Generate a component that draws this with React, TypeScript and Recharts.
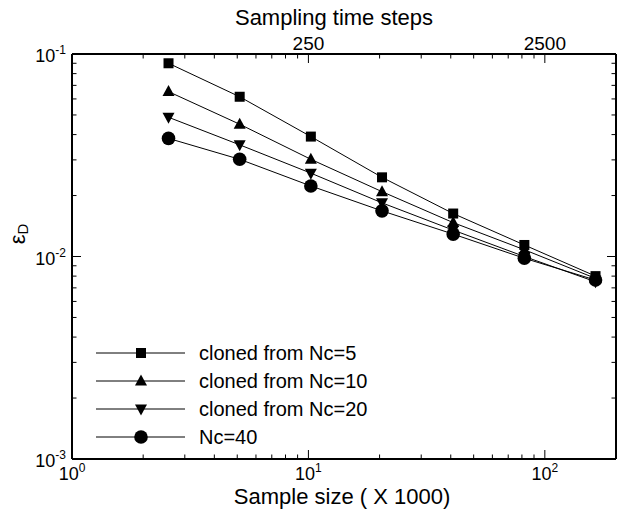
import { LineChart, Line, XAxis, YAxis, Legend, Label } from 'recharts';

// sample size in thousands (bottom axis)
const sampleSize = [2.56, 5.12, 10.24, 20.48, 40.96, 81.92, 163.84];

// epsilon_D
const errNc5 = [0.09, 0.0615, 0.0391, 0.0246, 0.0163, 0.0114, 0.008];
const errNc10 = [0.0652, 0.045, 0.0302, 0.0209, 0.0147, 0.0108, 0.0078];
const errNc20 = [0.0487, 0.0356, 0.0258, 0.0184, 0.0135, 0.01, 0.0075];
const errNc40 = [0.0383, 0.0302, 0.0223, 0.0168, 0.0129, 0.0098, 0.00765];

const seriesNames = ['cloned from Nc=5', 'cloned from Nc=10', 'cloned from Nc=20', 'Nc=40'];

const xTicks = [1, 2, 3, 4, 5, 6, 7, 8, 9, 10, 20, 30, 40, 50, 60, 70, 80, 90, 100];
const yTicks = [
  0.001, 0.002, 0.003, 0.004, 0.005, 0.006, 0.007, 0.008, 0.009,
  0.01, 0.02, 0.03, 0.04, 0.05, 0.06, 0.07, 0.08, 0.09, 0.1,
];
// time steps per 1000 samples
const stepsPerSample = 25;

const data = sampleSize.map((x, i) => ({
  x,
  nc5: errNc5[i],
  nc10: errNc10[i],
  nc20: errNc20[i],
  nc40: errNc40[i],
}));

const FONT = '"Liberation Sans", Arial, Helvetica, sans-serif';

const isDecade = (v: number) => Math.abs(Math.log10(v) - Math.round(Math.log10(v))) < 1e-6;

function Marker({ shape, cx, cy }: { shape: string; cx: number; cy: number }) {
  if (shape === 'square') {
    return <rect x={cx - 5} y={cy - 5} width={10} height={10} fill="#000" />;
  }
  if (shape === 'up') {
    return <polygon points={`${cx},${cy - 6.5} ${cx - 6},${cy + 4.5} ${cx + 6},${cy + 4.5}`} fill="#000" />;
  }
  if (shape === 'down') {
    return <polygon points={`${cx - 6},${cy - 4.5} ${cx + 6},${cy - 4.5} ${cx},${cy + 6.5}`} fill="#000" />;
  }
  return <circle cx={cx} cy={cy} r={6.8} fill="#000" />;
}

const shapes: Record<string, string> = { nc5: 'square', nc10: 'up', nc20: 'down', nc40: 'circle' };

const dotFor = (shape: string) => (props: any) => (
  <Marker key={`${shape}-${props.index}`} shape={shape} cx={props.cx} cy={props.cy} />
);

const BottomTick = ({ x, y, payload }: any) => {
  const major = isDecade(payload.value);
  return (
    <g>
      <line x1={x} x2={x} y1={y} y2={y - (major ? 9 : 4.5)} stroke="#000" />
      {major && (
        <text x={x} y={y + 21} textAnchor="middle" fontSize={18} fill="#000">
          10<tspan dy={-8} fontSize={12}>{Math.round(Math.log10(payload.value))}</tspan>
        </text>
      )}
    </g>
  );
};

const TopTick = ({ x, y, payload }: any) => {
  const major = isDecade(payload.value);
  return (
    <g>
      <line x1={x} x2={x} y1={y} y2={y + (major ? 9 : 4.5)} stroke="#000" />
      {major && payload.value > 1 && (
        <text x={x} y={y - 4} textAnchor="middle" fontSize={19} fill="#000">
          {payload.value * stepsPerSample}
        </text>
      )}
    </g>
  );
};

const LeftTick = ({ x, y, payload }: any) => {
  const major = isDecade(payload.value);
  return (
    <g>
      <line x1={x} x2={x + (major ? 9 : 4.5)} y1={y} y2={y} stroke="#000" />
      {major && (
        <text x={x - 6} y={y + 8} textAnchor="end" fontSize={18} fill="#000">
          10<tspan dy={-8} fontSize={12}>{Math.round(Math.log10(payload.value))}</tspan>
        </text>
      )}
    </g>
  );
};

const RightTick = ({ x, y, payload }: any) => {
  const major = isDecade(payload.value);
  return <line x1={x} x2={x - (major ? 9 : 4.5)} y1={y} y2={y} stroke="#000" />;
};

const LegendBox = ({ payload }: any) => {
  const items = [...(payload || [])].sort(
    (a: any, b: any) => seriesNames.indexOf(a.value) - seriesNames.indexOf(b.value),
  );
  return (
    <div>
      {items.map((entry: any, i: number) => (
        <div key={i} style={{ display: 'flex', alignItems: 'center', height: 28 }}>
          <svg width={89} height={28}>
            <line x1={0} x2={89} y1={14} y2={14} stroke="#000" strokeWidth={1} />
            <Marker shape={shapes[entry.dataKey]} cx={45} cy={14} />
          </svg>
          <span style={{ marginLeft: 14, fontSize: 20, color: '#000' }}>{entry.value}</span>
        </div>
      ))}
    </div>
  );
};

export default function App() {
  return (
    <div style={{ position: 'fixed', left: 0, top: 0, width: 617, height: 512, background: '#fff', fontFamily: FONT }}>
      <LineChart width={617} height={512} data={data} margin={{ top: 0, right: 0, bottom: 0, left: 0 }}>
        <XAxis
          xAxisId="bottom"
          dataKey="x"
          type="number"
          scale="log"
          domain={[1, 200]}
          allowDataOverflow
          ticks={xTicks}
          interval={0}
          height={53}
          tickSize={0}
          tickMargin={0}
          tick={<BottomTick />}
          axisLine={{ stroke: '#000', strokeWidth: 2 }}
        >
          <Label
            content={() => (
              <text x={342} y={504} textAnchor="middle" fontSize={22} fill="#000">
                Sample size ( X 1000)
              </text>
            )}
          />
        </XAxis>
        <XAxis
          xAxisId="top"
          orientation="top"
          dataKey="x"
          type="number"
          scale="log"
          domain={[1, 200]}
          allowDataOverflow
          ticks={xTicks}
          interval={0}
          height={54}
          tickSize={0}
          tickMargin={0}
          tick={<TopTick />}
          axisLine={{ stroke: '#000', strokeWidth: 2 }}
        >
          <Label
            content={() => (
              <text x={334} y={25} textAnchor="middle" fontSize={22} fill="#000">
                Sampling time steps
              </text>
            )}
          />
        </XAxis>
        <YAxis
          yAxisId="left"
          type="number"
          scale="log"
          domain={[0.001, 0.1]}
          allowDataOverflow
          ticks={yTicks}
          interval={0}
          width={72}
          tickSize={0}
          tickMargin={0}
          tick={<LeftTick />}
          axisLine={{ stroke: '#000', strokeWidth: 2 }}
        >
          <Label
            content={() => (
              <text x={25} y={234} transform="rotate(-90 25 234)" textAnchor="middle" fontSize={22} fill="#000">
                ε<tspan dy={3} fontSize={15}>D</tspan>
              </text>
            )}
          />
        </YAxis>
        <YAxis
          yAxisId="right"
          orientation="right"
          type="number"
          scale="log"
          domain={[0.001, 0.1]}
          allowDataOverflow
          ticks={yTicks}
          interval={0}
          width={1}
          tickSize={0}
          tickMargin={0}
          tick={<RightTick />}
          axisLine={{ stroke: '#000', strokeWidth: 2 }}
        />
        <Legend
          layout="vertical"
          align="center"
          verticalAlign="middle"
          wrapperStyle={{ left: 96, top: 339 }}
          content={<LegendBox />}
        />
        <Line xAxisId="bottom" yAxisId="left" dataKey="nc5" name={seriesNames[0]} stroke="#000" strokeWidth={1} dot={dotFor('square')} isAnimationActive={false} />
        <Line xAxisId="bottom" yAxisId="left" dataKey="nc10" name={seriesNames[1]} stroke="#000" strokeWidth={1} dot={dotFor('up')} isAnimationActive={false} />
        <Line xAxisId="bottom" yAxisId="left" dataKey="nc20" name={seriesNames[2]} stroke="#000" strokeWidth={1} dot={dotFor('down')} isAnimationActive={false} />
        <Line xAxisId="bottom" yAxisId="left" dataKey="nc40" name={seriesNames[3]} stroke="#000" strokeWidth={1} dot={dotFor('circle')} isAnimationActive={false} />
      </LineChart>
    </div>
  );
}
